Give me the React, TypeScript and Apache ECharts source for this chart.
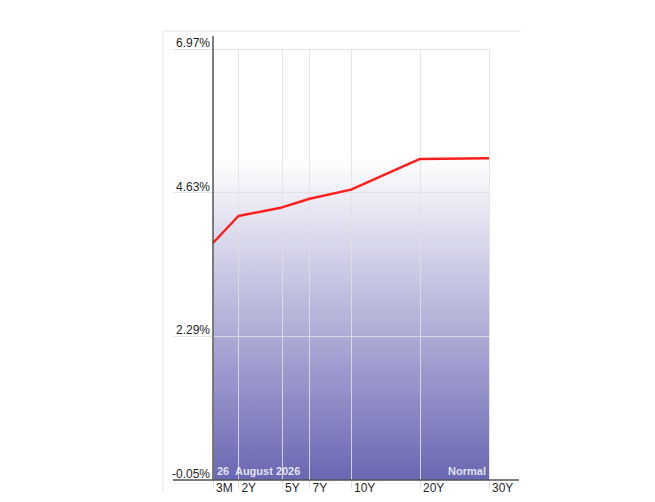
import React, { useEffect, useRef } from 'react';
import * as echarts from 'echarts';

const tenorLabels = ['3M', '2Y', '5Y', '7Y', '10Y', '20Y', '30Y'];
const tenorYears = [0.25, 2, 5, 7, 10, 20, 30];
const yields = [3.81, 4.25, 4.39, 4.53, 4.68, 5.18, 5.19];
const yTickValues = [-0.05, 2.29, 4.63, 6.97];
// the x scale is piecewise linear: each segment between breaks gets equal width
const scaleBreaks = [0.25, 5, 10, 20, 30];
const dateText = '26  August 2026';
const curveShape = 'Normal';

function tenorPos(t: number): number {
  for (let i = 0; i < scaleBreaks.length - 1; i++) {
    const a = scaleBreaks[i];
    const b = scaleBreaks[i + 1];
    if (t <= b || i === scaleBreaks.length - 2) return i + (t - a) / (b - a);
  }
  return 0;
}

const xPositions = tenorYears.map(tenorPos);
const seriesData = xPositions.map((p, i) => [p, yields[i]]);

const FONT = '"Liberation Sans", Arial, sans-serif';

export default function App() {
  const ref = useRef<HTMLDivElement>(null);
  useEffect(() => {
    if (!ref.current) return;
    const chart = echarts.init(ref.current, null, { renderer: 'svg' });
    const gridLeft = 213;
    const gridTop = 49;
    const gridW = 276;
    const gridH = 431;
    const gridBottomY = gridTop + gridH;
    const yMin = yTickValues[0];
    const yMax = yTickValues[yTickValues.length - 1];
    const xMax = scaleBreaks.length - 1;

    chart.setOption({
      animation: false,
      backgroundColor: '#ffffff',
      grid: { left: gridLeft, top: gridTop, width: gridW, height: gridH, containLabel: false },
      xAxis: {
        type: 'value',
        min: 0,
        max: xMax,
        z: 3,
        axisLine: { show: false },
        axisTick: {
          show: true,
          customValues: xPositions,
          length: 12,
          lineStyle: { color: '#dedede', width: 1 },
        },
        splitLine: { show: true, lineStyle: { color: 'rgba(225,225,225,0.85)', width: 1 } },
        axisLabel: {
          customValues: xPositions,
          hideOverlap: false,
          showMinLabel: true,
          showMaxLabel: true,
          align: 'left',
          padding: [0, 0, 0, 3],
          margin: 2,
          color: '#262626',
          fontSize: 12,
          fontFamily: FONT,
          formatter: (v: number) => {
            const i = xPositions.findIndex((p) => Math.abs(p - v) < 1e-6);
            return i >= 0 ? tenorLabels[i] : '';
          },
        },
      },
      yAxis: {
        type: 'value',
        min: yMin,
        max: yMax,
        z: 3,
        axisLine: { show: false },
        axisTick: {
          show: true,
          customValues: yTickValues,
          length: 40,
          lineStyle: { color: '#e3e3e3', width: 1 },
        },
        splitLine: { show: true, lineStyle: { color: 'rgba(225,225,225,0.85)', width: 1 } },
        axisLabel: {
          customValues: yTickValues,
          margin: 3,
          verticalAlign: 'bottom',
          color: '#262626',
          fontSize: 12,
          fontFamily: FONT,
          formatter: (v: number) => v.toFixed(2) + '%',
        },
      },
      series: [
        {
          type: 'line',
          data: seriesData,
          z: 1,
          silent: true,
          symbol: 'none',
          lineStyle: { opacity: 0 },
          markArea: {
            silent: true,
            itemStyle: {
              color: new echarts.graphic.LinearGradient(0, 0, 0, 1, [
                { offset: 0, color: 'rgba(255,255,255,1)' },
                { offset: 1, color: '#6a67b3' },
              ]),
            },
            data: [[{ xAxis: 0, yAxis: Math.max(...yields) }, { xAxis: xMax, yAxis: yMin }]],
          },
        },
        {
          type: 'line',
          data: seriesData,
          z: 10,
          symbol: 'none',
          lineStyle: { color: '#ff1e1e', width: 2.5 },
        },
      ],
      graphic: [
        { type: 'line', silent: true, z: 0, shape: { x1: 163, y1: 31, x2: 521, y2: 31 }, style: { stroke: '#f2f2f2', lineWidth: 2 } },
        { type: 'line', silent: true, z: 0, shape: { x1: 163, y1: 31, x2: 163, y2: 492 }, style: { stroke: '#f2f2f2', lineWidth: 2 } },
        { type: 'line', silent: true, z: 50, shape: { x1: gridLeft, y1: 36, x2: gridLeft, y2: gridBottomY }, style: { stroke: '#555', lineWidth: 1.5 } },
        { type: 'line', silent: true, z: 50, shape: { x1: 173, y1: gridBottomY, x2: 519, y2: gridBottomY }, style: { stroke: '#555', lineWidth: 1.5 } },
        {
          type: 'text',
          silent: true,
          z: 60,
          left: 217,
          top: 465,
          style: { text: dateText, fill: 'rgba(255,255,255,0.82)', font: 'bold 11px ' + FONT },
        },
        {
          type: 'text',
          silent: true,
          z: 60,
          right: 169,
          top: 465,
          style: { text: curveShape, fill: 'rgba(255,255,255,0.82)', font: 'bold 11px ' + FONT },
        },
      ],
    });
    return () => chart.dispose();
  }, []);
  return <div ref={ref} style={{ position: 'absolute', left: 0, top: 0, width: 655, height: 502 }} />;
}
